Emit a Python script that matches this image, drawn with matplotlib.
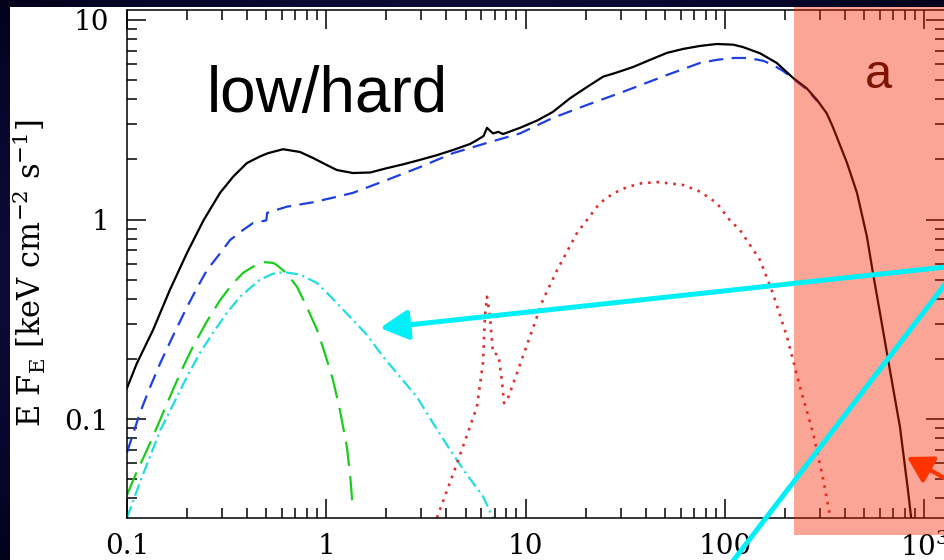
import numpy as np
import matplotlib
import matplotlib.pyplot as plt
from matplotlib.patches import Rectangle, FancyArrowPatch
from matplotlib.colors import LinearSegmentedColormap
from matplotlib.ticker import FixedLocator, LogLocator, NullFormatter

plt.rcParams["mathtext.fontset"] = "dejavuserif"

# ---- spectral components (keV, keV cm^-2 s^-1)
total_e = [0.1, 0.112, 0.135, 0.164, 0.2, 0.242, 0.293, 0.341, 0.40, 0.465, 0.51, 0.607,
           0.738, 0.861, 1.0, 1.13, 1.36, 1.66, 2.02, 2.43, 2.95, 3.58, 4.32, 5.26, 5.70,
           6.15, 6.40, 6.86, 7.3, 7.7, 9.37, 11.4, 13.7, 16.7, 20.3, 24.5, 28.6, 34.6,
           42.1, 51.2, 61.8, 75, 91, 110, 123, 150, 182, 220, 257, 290, 324, 348,
           410, 460, 516, 553, 600, 673, 756, 829, 860]
total_f = [0.143, 0.190, 0.279, 0.443, 0.68, 0.99, 1.36, 1.64, 1.92, 2.07, 2.15, 2.25,
           2.18, 2.03, 1.88, 1.77, 1.71, 1.72, 1.81, 1.89, 1.99, 2.10, 2.23, 2.39, 2.50,
           2.62, 2.88, 2.70, 2.75, 2.68, 2.88, 3.13, 3.46, 4.05, 4.61, 5.20, 5.45, 5.81,
           6.31, 6.84, 7.16, 7.41, 7.58, 7.52, 7.32, 6.81, 6.09, 5.12, 4.55, 3.97, 3.41,
           2.91, 1.92, 1.36, 0.82, 0.54, 0.34, 0.176, 0.091, 0.044, 0.032]

comp_e = [0.1, 0.108, 0.116, 0.130, 0.147, 0.171, 0.2, 0.224, 0.252, 0.293, 0.329, 0.382,
          0.429, 0.50, 0.505, 0.635, 0.857, 1.13, 1.36, 2.02, 2.95, 4.32, 6.4, 9.37,
          13.7, 20.3, 29.8, 34.6, 51.2, 75, 91, 110, 131, 156, 174, 196, 220, 257, 290]
comp_f = [0.068, 0.086, 0.107, 0.143, 0.191, 0.264, 0.364, 0.452, 0.558, 0.676, 0.789,
          0.886, 0.96, 0.99, 1.08, 1.16, 1.22, 1.30, 1.36, 1.58, 1.83, 2.15, 2.42, 2.70,
          3.23, 3.75, 4.31, 4.56, 5.30, 6.09, 6.31, 6.45, 6.45, 6.24, 5.95, 5.55, 5.08,
          4.50, 3.93]

disk_e = [0.1, 0.112, 0.126, 0.144, 0.164, 0.188, 0.214, 0.251, 0.293, 0.335, 0.382,
          0.430, 0.482, 0.541, 0.566, 0.633, 0.713, 0.797, 0.90, 0.984, 1.08, 1.17,
          1.27, 1.32, 1.36]
disk_f = [0.0416, 0.0545, 0.070, 0.095, 0.129, 0.176, 0.23, 0.307, 0.394, 0.470, 0.54,
          0.581, 0.612, 0.606, 0.59, 0.537, 0.46, 0.366, 0.279, 0.213, 0.157, 0.111,
          0.072, 0.051, 0.035]

warm_e = [0.1, 0.116, 0.147, 0.2, 0.232, 0.27, 0.316, 0.369, 0.465, 0.541, 0.607, 0.738,
          0.90, 1.08, 1.32, 1.60, 1.93, 2.34, 2.85, 3.44, 4.18, 5.05, 6.11, 6.86]
warm_f = [0.032, 0.048, 0.088, 0.163, 0.214, 0.27, 0.339, 0.41, 0.50, 0.535, 0.545, 0.53,
          0.48, 0.40, 0.324, 0.264, 0.205, 0.163, 0.129, 0.095, 0.070, 0.053, 0.041,
          0.032]

refl_e = [3.59, 4.53, 5.70, 6.11, 6.25, 6.40, 6.6, 6.86, 7.3, 7.6, 7.8, 8.1, 9.06,
          10.5, 12.2, 14.4, 18.1, 23.6, 27.5, 32.1, 38.2, 46.1, 61.6, 75, 91, 106, 119,
          150, 174, 205, 238, 277, 310, 336]
refl_f = [0.032, 0.060, 0.115, 0.191, 0.324, 0.41, 0.34, 0.214, 0.21, 0.157, 0.12, 0.125,
          0.170, 0.258, 0.394, 0.558, 0.855, 1.21, 1.35, 1.45, 1.52, 1.54, 1.49, 1.38,
          1.21, 0.99, 0.886, 0.627, 0.428, 0.258, 0.145, 0.085, 0.051, 0.033]

xticks = [0.1, 1, 10, 100, 1000]
xticklabels = ["0.1", "1", "10", "100", "10$^3$"]
yticks = [0.1, 1, 10]
yticklabels = ["0.1", "1", "10"]

W, H = 945, 560


def fx(px):
    return px / W


def fy(py):
    return 1 - py / H


fig = plt.figure(figsize=(9.45, 5.6), dpi=100)
fig.patch.set_facecolor("#0a0a3c")

# dark blue slide background
bg = fig.add_axes([0, 0, 1, 1], zorder=-10)
yy, xx = np.mgrid[0:1:200j, 0:1:200j]
r = np.sqrt((xx - 0.5) ** 2 + (yy - 0.5) ** 2)
cmap = LinearSegmentedColormap.from_list("slide", ["#1e1e70", "#02021c"])
bg.imshow(r, cmap=cmap, aspect="auto", extent=[0, 1, 0, 1])
bg.axis("off")

# white panel of the pasted figure
fig.patches.append(Rectangle((fx(10), 0), 1, fy(7), transform=fig.transFigure,
                             facecolor="white", edgecolor="none", zorder=-1))

ax = fig.add_axes([fx(127), fy(518), fx(945) - fx(127), fy(10) - fy(518)])
ax.set_xscale("log")
ax.set_yscale("log")
ax.set_xlim(0.1, 10 ** (-1 + 818 / 199.3))
ax.set_ylim(10 ** -1.496, 10 ** 1.05)

lw = 1.6
ax.plot(comp_e, comp_f, color="#1f3fe0", lw=lw, dashes=(6.5, 3.8))
ax.plot(total_e, total_f, color="black", lw=lw)
ax.plot(disk_e, disk_f, color="#1ccc1c", lw=lw, dashes=(11, 4.5))
ax.plot(warm_e, warm_f, color="#22dce0", lw=lw, dashes=(5.5, 2, 1, 2))
ax.plot(refl_e, refl_f, color="#dd3030", lw=1.9, dashes=(1, 2.2))

ax.xaxis.set_major_locator(FixedLocator(xticks))
ax.set_xticklabels(xticklabels)
ax.yaxis.set_major_locator(FixedLocator(yticks))
ax.set_yticklabels(yticklabels)
ax.xaxis.set_minor_locator(LogLocator(base=10, subs=np.arange(2, 10)))
ax.yaxis.set_minor_locator(LogLocator(base=10, subs=np.arange(2, 10)))
ax.xaxis.set_minor_formatter(NullFormatter())
ax.yaxis.set_minor_formatter(NullFormatter())
ax.tick_params(which="both", direction="in", top=True, right=True, width=1.1,
               color="black", labelsize=20, labelcolor="black")
ax.tick_params(which="major", length=14)
ax.tick_params(which="minor", length=7)
ax.tick_params(axis="x", pad=11)
ax.tick_params(axis="y", pad=13)
for lab in ax.get_xticklabels() + ax.get_yticklabels():
    lab.set_family("DejaVu Serif")
for s in ax.spines.values():
    s.set_linewidth(1.1)

fig.text(fx(29), fy(273), r"E F$_{\rm E}$ [keV cm$^{-2}$ s$^{-1}$]", rotation=90,
         ha="center", va="center", fontsize=22, family="DejaVu Serif")

fig.text(fx(207), fy(112), "low/hard", fontsize=46, family="Liberation Sans",
         ha="left", va="baseline")
fig.text(fx(878), fy(75), "a", fontsize=35, family="Liberation Sans",
         ha="center", va="center", color="#2a0800", zorder=0.5)

# translucent salmon band
fig.patches.append(Rectangle((fx(794), fy(535)), 1, fy(7) - fy(535),
                             transform=fig.transFigure, facecolor="#f42500",
                             alpha=0.41, edgecolor="none", zorder=1))

# cyan pointers
fig.patches.append(FancyArrowPatch((fx(946), fy(267)), (fx(380), fy(328)),
                                   transform=fig.transFigure,
                                   arrowstyle="-|>,head_length=0.85,head_width=0.45",
                                   mutation_scale=20, color="#00f0f8", lw=3.6,
                                   shrinkA=0, shrinkB=0, zorder=3))
fig.lines.append(matplotlib.lines.Line2D([fx(946), fx(733)], [fy(283), fy(561)],
                                         transform=fig.transFigure, color="#00f0f8",
                                         lw=3.6, zorder=3))
# red pointer
fig.patches.append(FancyArrowPatch((fx(946), fy(479)), (fx(907), fy(457)),
                                   transform=fig.transFigure,
                                   arrowstyle="-|>,head_length=0.85,head_width=0.5",
                                   mutation_scale=18, color="#ff3300", lw=3,
                                   shrinkA=0, shrinkB=0, zorder=3))

fig.savefig("out.png", dpi=100, facecolor=fig.get_facecolor())
